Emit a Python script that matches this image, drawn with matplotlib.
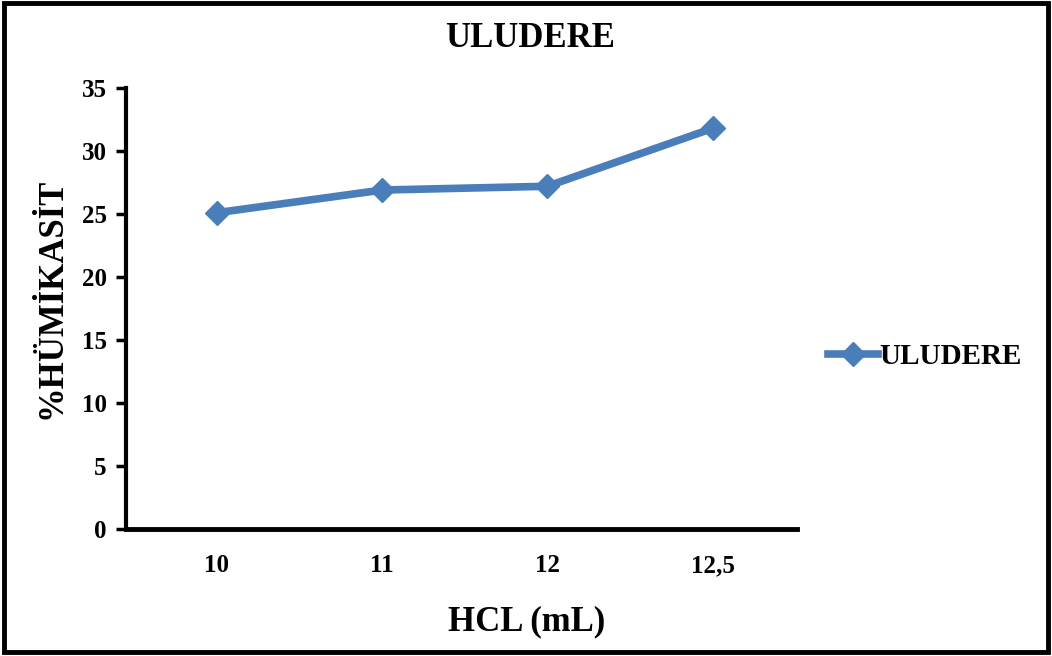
import matplotlib
matplotlib.use("Agg")
import matplotlib.pyplot as plt
from matplotlib.patches import Rectangle
from matplotlib.lines import Line2D

categories = ["10", "11", "12", "12,5"]
values = [25.1, 26.9, 27.2, 31.8]
yticks = [0, 5, 10, 15, 20, 25, 30, 35]
series_name = "ULUDERE"
title = "ULUDERE"
xlabel = "HCL (mL)"
ylabel = "%HÜMİKASİT"

plt.rcParams['font.family'] = ['Liberation Serif', 'DejaVu Serif']
plt.rcParams['font.weight'] = 'bold'

fig = plt.figure(figsize=(10.52, 6.56), dpi=100)
ax = fig.add_axes([0.1198, 0.1936, 0.6378, 0.6723])

color = '#4a7ebb'
x = list(range(len(categories)))
ax.plot(x, values, color=color, lw=5.5, marker='D', markersize=12,
        markeredgecolor=color, markerfacecolor=color, solid_capstyle='round')

ax.set_xlim(-0.55, len(categories) - 0.49)
ax.set_ylim(0, 35)
ax.set_yticks(yticks)
ax.set_yticklabels([str(v) for v in yticks], fontsize=18, fontweight='bold')
ax.set_xticks(x)
ax.set_xticklabels(categories, fontsize=18, fontweight='bold')
ax.tick_params(axis='x', length=0, pad=18)
ax.tick_params(axis='y', length=7, width=2.5, direction='out', pad=7)
for s in ['top', 'right']:
    ax.spines[s].set_visible(False)
ax.spines['left'].set_linewidth(3)
ax.spines['bottom'].set_linewidth(3.5)

fig.text(0.501, 0.052, xlabel, ha='center', va='center', fontsize=25, fontweight='bold')
fig.text(0.049, 0.545, ylabel, ha='center', va='center', rotation=90, fontsize=25, fontweight='bold')
fig.text(0.504, 0.942, title, ha='center', va='center', fontsize=25, fontweight='bold')

handle = Line2D([], [], color=color, lw=5.5, marker='D', markersize=12,
                markeredgecolor=color, markerfacecolor=color)
fig.legend([handle], [series_name], loc='center left', bbox_to_anchor=(0.787, 0.456),
           frameon=False, prop={'size': 21, 'weight': 'bold'}, handlelength=1.7,
           handletextpad=0.05, borderaxespad=0, borderpad=0)

fig.patches.append(Rectangle((0.004, 0.006), 0.992, 0.99, transform=fig.transFigure,
                             fill=False, edgecolor='black', lw=3.5))

fig.savefig("out.png", dpi=100)
